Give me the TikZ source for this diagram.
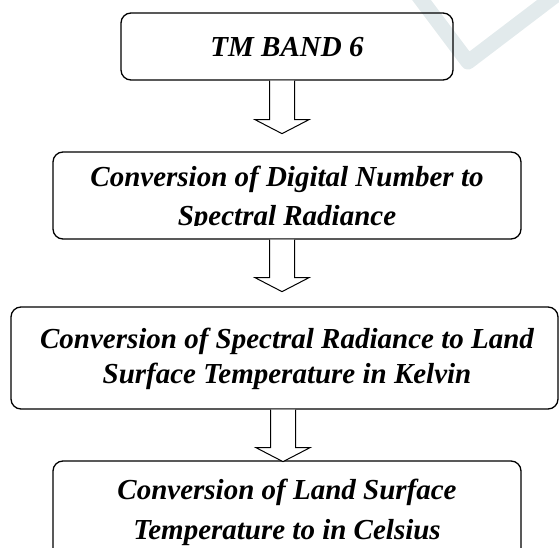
\documentclass[tikz,border=0pt]{standalone}
\usepackage{fontspec}
\setmainfont{Liberation Serif}
\usetikzlibrary{calc}
\definecolor{wmark}{RGB}{226,234,236}
\tikzset{
  box/.style={draw=black, line width=1.3pt, rounded corners=10pt, inner sep=0pt},
  lbl/.style={anchor=base, inner sep=0pt, font=\fontsize{29}{33}\selectfont\bfseries\itshape},
  blockarr/.style={draw=black, line width=1pt, fill=white, line join=miter},
}
\newcommand\hollowarrow[3]{% #1 start node anchor, #2 tip coordinate, #3 x offset
  \draw[blockarr]
    ($(#1)+(#3-12.5,0)$) -- ($(#2)+(-12.5,-14)$) -- ($(#2)+(-27,-14)$) --
    (#2) -- ($(#2)+(27,-14)$) -- ($(#2)+(12.5,-14)$) -- ($(#1)+(#3+12.5,0)$);
}
\begin{document}
\begin{tikzpicture}[x=1pt,y=-1pt]
\useasboundingbox (0,0) rectangle (559,548);
\clip (0,0) rectangle (559,548);
% faint watermark
\draw[wmark, line width=15pt, line cap=butt, line join=round]
  (414,-10) -- (468,62) -- (560,-8);
% boxes
\node[box, minimum width=332pt, minimum height=67pt] (b1) at (287,46.5) {};
\node[box, minimum width=468pt, minimum height=87pt] (b2) at (287,195.5) {};
\node[box, minimum width=547pt, minimum height=102pt] (b3) at (284.5,358) {};
\node[box, minimum width=468pt, minimum height=120pt] (b4) at (287,521) {};
% texts
\node[lbl] (t1) at (287,57) {TM BAND 6};
\node[lbl] (t2a) at (287,186) {Conversion of Digital Number to};
\begin{scope}
  \clip (0,152) rectangle (559,225.5);
  \node[lbl] (t2b) at (287,225) {Spectral Radiance};
\end{scope}
\node[lbl] (t3a) at (287,348) {Conversion of Spectral Radiance to Land};
\node[lbl] (t3b) at (287,383) {Surface Temperature in Kelvin};
\node[lbl] (t4a) at (287,499) {Conversion of Land Surface};
\node[lbl] (t4b) at (287,539) {Temperature to in Celsius};
% arrow tips
\coordinate (p1) at ($(b1.south)+(-5,53)$);
\coordinate (p2) at ($(b2.south)+(-5,52)$);
\coordinate (p3) at ($(b3.south)+(-1.5,52)$);
\hollowarrow{b1.south}{p1}{-5}
\hollowarrow{b2.south}{p2}{-5}
\hollowarrow{b3.south}{p3}{-1.5}
\end{tikzpicture}
\end{document}
